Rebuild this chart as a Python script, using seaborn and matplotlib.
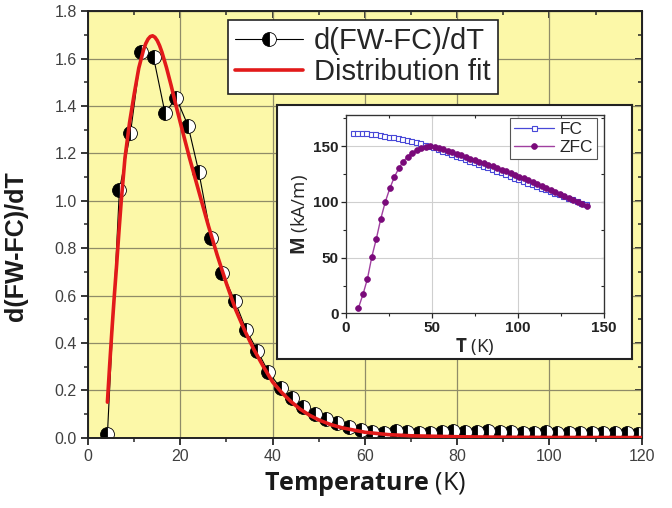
import matplotlib
matplotlib.use("Agg")
import matplotlib.pyplot as plt
from matplotlib.ticker import MultipleLocator, FormatStrFormatter
import seaborn as sns

# Measured derivative d(FW-FC)/dT
temp_k = [4.2, 6.8, 9.2, 11.5, 14.2, 16.7, 19.1, 21.7, 24.0, 26.7,
          29.1, 31.8, 34.3, 36.7, 39.1, 41.8, 44.2, 46.6, 49.1, 51.6,
          54.0, 56.6, 59.1, 61.6, 64.1, 66.7, 69.2, 71.7, 74.2, 76.7,
          79.2, 81.7, 84.2, 86.7, 89.2, 91.7, 94.2, 96.7, 99.2, 101.7,
          104.2, 106.7, 109.2, 111.7, 114.2, 116.7, 119.2]
dfwfc_dt = [0.014, 1.045, 1.286, 1.626, 1.605, 1.369, 1.435, 1.315, 1.122, 0.844,
            0.696, 0.578, 0.454, 0.367, 0.277, 0.208, 0.166, 0.130, 0.100, 0.077,
            0.061, 0.046, 0.032, 0.022, 0.019, 0.028, 0.022, 0.018, 0.021, 0.025,
            0.029, 0.022, 0.024, 0.027, 0.022, 0.026, 0.021, 0.019, 0.023, 0.020,
            0.018, 0.021, 0.019, 0.020, 0.018, 0.019, 0.016]

# Distribution fit curve
fit_temp_k = [4.2, 4.7, 5.2, 5.7, 6.2, 6.7, 7.2, 8.0, 9.0, 10.0,
              11.0, 12.0, 12.5, 13.0, 13.5, 14.0, 14.5, 15.0, 15.5, 16.0,
              17.0, 18.0, 19.0, 20.0,
              22.0, 24.0, 26.0, 28.0, 30.0, 32.0, 34.0, 36.0, 38.0, 40.0,
              42.0, 44.0, 46.0, 48.0, 50.0, 52.5, 55.0, 60.0, 65.0, 70.0,
              80.0, 90.0, 100.0, 120.0]
fit_values = [0.15, 0.31, 0.46, 0.60, 0.73, 0.87, 1.00, 1.18, 1.33, 1.45,
              1.56, 1.635, 1.663, 1.682, 1.693, 1.696, 1.690, 1.676, 1.655, 1.628,
              1.562, 1.487, 1.407, 1.33,
              1.18, 1.04, 0.90, 0.77, 0.65, 0.54, 0.45, 0.37, 0.30, 0.235,
              0.19, 0.152, 0.12, 0.095, 0.075, 0.056, 0.042, 0.023, 0.013, 0.008,
              0.004, 0.002, 0.001, 0.0005]

# Inset: field-cooled magnetisation
fc_temp_k = [4.0, 6.6, 9.2, 11.8, 14.4, 17.0, 19.6, 22.2, 24.8, 27.4,
             30.0, 32.6, 35.2, 37.8, 40.4, 43.0, 45.6, 48.2, 50.8, 53.4,
             56.0, 58.6, 61.2, 63.8, 66.4, 69.0, 71.6, 74.2, 76.8, 79.4,
             82.0, 84.6, 87.2, 89.8, 92.4, 95.0, 97.6, 100.2, 102.8, 105.4,
             108.0, 110.6, 113.2, 115.8, 118.4, 121.0, 123.6, 126.2, 128.8, 131.4,
             134.0, 136.6, 139.2]
fc_m = [162.0, 161.9, 161.7, 161.4, 161.0, 160.5, 159.9, 159.2, 158.5, 157.7,
        156.9, 156.3, 155.6, 154.7, 153.6, 152.5, 151.3, 150.1, 148.8, 147.3,
        145.8, 144.3, 142.8, 141.3, 139.8, 138.3, 136.8, 135.3, 133.8, 132.3,
        130.8, 129.3, 127.8, 126.3, 124.8, 123.3, 121.8, 120.3, 118.8, 117.3,
        115.8, 114.3, 112.8, 111.3, 109.8, 108.3, 106.8, 105.3, 103.8, 102.3,
        100.8, 99.3, 97.8]

# Inset: zero-field-cooled magnetisation
zfc_temp_k = [7.2, 9.8, 12.4, 15.0, 17.6, 20.2, 22.8, 25.4, 28.0, 30.6,
              33.2, 35.8, 38.4, 41.0, 43.6, 46.2, 48.8, 51.4, 54.0, 56.6,
              59.2, 61.8, 64.4, 67.0, 69.6, 72.2, 74.8, 77.4, 80.0, 82.6,
              85.2, 87.8, 90.4, 93.0, 95.6, 98.2, 100.8, 103.4, 106.0, 108.6,
              111.2, 113.8, 116.4, 119.0, 121.6, 124.2, 126.8, 129.4, 132.0, 134.6,
              137.2, 139.8]
zfc_m = [5.0, 17.0, 31.0, 51.0, 67.0, 85.0, 100.0, 112.0, 122.0, 130.0,
         136.0, 140.5, 144.0, 146.5, 148.3, 149.4, 149.8, 149.3, 148.3, 147.1,
         145.8, 144.4, 143.0, 141.6, 140.2, 138.8, 137.4, 136.0, 134.6, 133.2,
         131.7, 130.2, 128.7, 127.2, 125.7, 124.2, 122.6, 121.0, 119.4, 117.8,
         116.1, 114.4, 112.7, 110.9, 109.1, 107.3, 105.4, 103.5, 101.6, 99.6,
         98.0, 96.5]

sns.set_style("ticks")
plt.rcParams.update({
    "font.family": ["Liberation Sans", "DejaVu Sans"],
    "mathtext.fontset": "custom",
    "mathtext.rm": "Open Sans",
    "mathtext.bf": "Open Sans:bold",
})

TICK_COLOR = "#404040"
fig = plt.figure(figsize=(6.72, 5.08), dpi=100)

# ---------------- main panel ----------------
ax = fig.add_axes([0.131, 0.1384, 0.824, 0.8396])
ax.set_facecolor("#FCF8A8")

sns.lineplot(x=temp_k, y=dfwfc_dt, ax=ax, color="black", lw=0.8,
             marker="o", markersize=10, fillstyle="left",
             markerfacecoloralt="white", markeredgecolor="black",
             markeredgewidth=0.6, sort=False, estimator=None,
             label="d(FW-FC)/dT", zorder=2)
sns.lineplot(x=fit_temp_k, y=fit_values, ax=ax, color="#E21A1A", lw=2.6,
             sort=False, estimator=None, label="Distribution fit", zorder=3)

ax.set_xlim(0, 120)
ax.set_ylim(0, 1.8)
ax.xaxis.set_major_locator(MultipleLocator(20))
ax.xaxis.set_minor_locator(MultipleLocator(10))
ax.yaxis.set_major_locator(MultipleLocator(0.2))
ax.yaxis.set_minor_locator(MultipleLocator(0.1))
ax.yaxis.set_major_formatter(FormatStrFormatter("%.1f"))
ax.grid(True, which="major", color="#8f8c68", lw=0.9, zorder=0)
ax.set_axisbelow(True)
for s in ax.spines.values():
    s.set_linewidth(1.4)
    s.set_color("#222222")
ax.tick_params(which="major", direction="out", length=5, width=1.3,
               labelsize=11.5, labelcolor=TICK_COLOR, pad=3)
ax.tick_params(which="minor", direction="out", length=3, width=1.1)

secx = ax.secondary_xaxis("top")
secx.xaxis.set_major_locator(MultipleLocator(20))
secx.xaxis.set_minor_locator(MultipleLocator(10))
secx.tick_params(which="major", direction="in", length=5, width=1.3, labeltop=False)
secx.tick_params(which="minor", direction="in", length=3, width=1.1)
secy = ax.secondary_yaxis("right")
secy.yaxis.set_major_locator(MultipleLocator(0.2))
secy.yaxis.set_minor_locator(MultipleLocator(0.1))
secy.tick_params(which="major", direction="in", length=5, width=1.3, labelright=False)
secy.tick_params(which="minor", direction="in", length=3, width=1.1)

ax.set_xlabel(r"$\mathbf{Temperature}$ (K)", fontsize=18, family="Open Sans",
              color="#1a1a1a")
ax.xaxis.set_label_coords(0.5, -0.076)
ax.set_ylabel("d(FW-FC)/dT", fontsize=18, fontweight="bold", color="#1a1a1a")
ax.yaxis.set_label_coords(-0.108, 0.449)

leg = ax.legend(loc="upper left", bbox_to_anchor=(0.253, 0.979), borderaxespad=0,
                fontsize=21, frameon=True, fancybox=False, framealpha=1,
                edgecolor="#222222", handlelength=2.3, numpoints=1,
                borderpad=0.25, labelspacing=0.1, handletextpad=0.4)
leg.get_frame().set_linewidth(1.2)

# ---------------- inset ----------------
frame = fig.add_axes([0.412, 0.293, 0.528, 0.5])
frame.set_facecolor("white")
frame.set_xticks([])
frame.set_yticks([])
for s in frame.spines.values():
    s.set_linewidth(1.5)
    s.set_color("#222222")

axi = fig.add_axes([0.515, 0.383, 0.384, 0.391])
axi.set_facecolor("white")
sns.lineplot(x=fc_temp_k, y=fc_m, ax=axi, color="#4848D8", lw=0.9,
             marker="s", markersize=3.6, markerfacecolor="white",
             markeredgecolor="#4848D8", markeredgewidth=0.8,
             sort=False, estimator=None, label="FC")
sns.lineplot(x=zfc_temp_k, y=zfc_m, ax=axi, color="#A040A0", lw=1.0,
             marker="o", markersize=4.2, markerfacecolor="#7A0A7A",
             markeredgecolor="#7A0A7A", markeredgewidth=0.5,
             sort=False, estimator=None, label="ZFC")
axi.set_xlim(0, 150)
axi.set_ylim(0, 178)
axi.xaxis.set_major_locator(MultipleLocator(50))
axi.xaxis.set_minor_locator(MultipleLocator(25))
axi.yaxis.set_major_locator(MultipleLocator(50))
axi.yaxis.set_minor_locator(MultipleLocator(25))
axi.grid(True, which="major", color="#cfcfcf", lw=0.8)
axi.set_axisbelow(True)
for s in axi.spines.values():
    s.set_linewidth(0.9)
    s.set_color("#333333")
axi.tick_params(which="major", direction="out", length=3.5, width=0.9,
                labelsize=11, pad=2)
axi.tick_params(which="minor", direction="out", length=2, width=0.8)
for lab in axi.get_xticklabels() + axi.get_yticklabels():
    lab.set_fontweight("bold")
    lab.set_color("#222222")
sxi = axi.secondary_xaxis("top")
sxi.xaxis.set_major_locator(MultipleLocator(50))
sxi.xaxis.set_minor_locator(MultipleLocator(25))
sxi.tick_params(which="both", direction="in", length=2.5, width=0.8, labeltop=False)
syi = axi.secondary_yaxis("right")
syi.yaxis.set_major_locator(MultipleLocator(50))
syi.yaxis.set_minor_locator(MultipleLocator(25))
syi.tick_params(which="both", direction="in", length=2.5, width=0.8, labelright=False)

axi.set_xlabel(r"$\mathbf{T}$ (K)", fontsize=13.5, labelpad=1, family="Open Sans")
axi.set_ylabel(r"$\mathbf{M}$ (kA/m)", fontsize=13.5, labelpad=2, family="Open Sans")

li = axi.legend(loc="upper right", bbox_to_anchor=(0.973, 0.985), borderaxespad=0,
                fontsize=12.5, frameon=True, fancybox=False, framealpha=1,
                edgecolor="#555555", handlelength=2.3, numpoints=1,
                borderpad=0.25, labelspacing=0.15, handletextpad=0.3)
li.get_frame().set_linewidth(0.8)

fig.savefig("out.png", dpi=100)
